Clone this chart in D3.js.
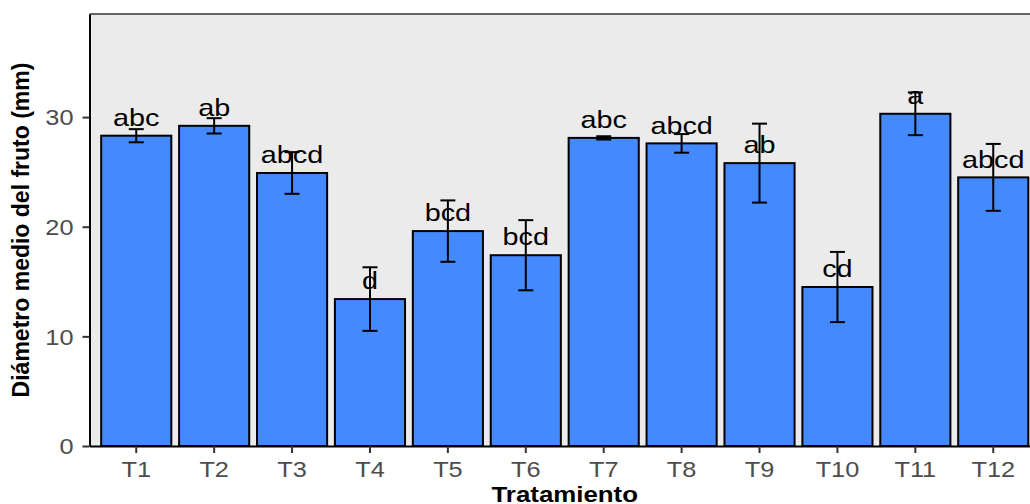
<!DOCTYPE html>
<html>
<head>
<meta charset="utf-8">
<script src="https://cdn.jsdelivr.net/npm/d3@7"></script>
<style>
  body { margin: 0; background: #fff; }
  svg { display: block; }
</style>
</head>
<body>
<svg width="1030" height="504"></svg>
<script>
// data
const treatments = ['T1', 'T2', 'T3', 'T4', 'T5', 'T6', 'T7', 'T8', 'T9', 'T10', 'T11', 'T12'];
const means = [28.3, 29.2, 24.9, 13.4, 19.6, 17.4, 28.1, 27.6, 25.8, 14.5, 30.3, 24.5];
const errors = [0.6, 0.7, 1.9, 2.9, 2.8, 3.2, 0.15, 0.85, 3.6, 3.2, 1.95, 3.05];
const letters = ['abc', 'ab', 'abcd', 'd', 'bcd', 'bcd', 'abc', 'abcd', 'ab', 'cd', 'a', 'abcd'];
const yTicks = [0, 10, 20, 30];

const rows = treatments.map((t, i) => ({ t: t, m: means[i], e: errors[i], l: letters[i] }));

const PANEL = { left: 89.5, right: 1040, top: 14, bottom: 446 };
const STRETCH = 1.15; // the reference text is drawn a bit wide
const FONT = 'Liberation Sans, Arial, Helvetica, sans-serif';

const x = d3.scaleBand()
    .domain(treatments)
    .range([PANEL.left, PANEL.right])
    .paddingInner(0.1)
    .paddingOuter(0.15);

const y = d3.scaleLinear()
    .domain([0, 39.4])
    .range([PANEL.bottom, PANEL.top]);

const svg = d3.select('svg');

// panel background
svg.append('rect')
    .attr('x', PANEL.left)
    .attr('y', PANEL.top)
    .attr('width', PANEL.right - PANEL.left)
    .attr('height', PANEL.bottom - PANEL.top)
    .attr('fill', '#ebebeb');

svg.append('line')
    .attr('x1', PANEL.left).attr('x2', PANEL.right)
    .attr('y1', PANEL.top).attr('y2', PANEL.top)
    .attr('stroke', '#333').attr('stroke-width', 1.5);

// bars
svg.selectAll('.bar')
    .data(rows)
    .enter()
    .append('rect')
    .classed('bar', true)
    .attr('x', d => x(d.t))
    .attr('width', x.bandwidth())
    .attr('y', d => y(d.m))
    .attr('height', d => y(0) - y(d.m))
    .attr('fill', '#4589ff')
    .attr('stroke', '#000')
    .attr('stroke-width', 2);

// error bars
const cap = 7.5;
const eb = svg.selectAll('.err')
    .data(rows)
    .enter()
    .append('g')
    .classed('err', true)
    .attr('stroke', '#000')
    .attr('stroke-width', 2);
eb.append('line')
    .attr('x1', d => x(d.t) + x.bandwidth() / 2)
    .attr('x2', d => x(d.t) + x.bandwidth() / 2)
    .attr('y1', d => y(d.m - d.e))
    .attr('y2', d => y(d.m + d.e));
eb.append('line')
    .attr('x1', d => x(d.t) + x.bandwidth() / 2 - cap)
    .attr('x2', d => x(d.t) + x.bandwidth() / 2 + cap)
    .attr('y1', d => y(d.m + d.e))
    .attr('y2', d => y(d.m + d.e));
eb.append('line')
    .attr('x1', d => x(d.t) + x.bandwidth() / 2 - cap)
    .attr('x2', d => x(d.t) + x.bandwidth() / 2 + cap)
    .attr('y1', d => y(d.m - d.e))
    .attr('y2', d => y(d.m - d.e));

// letters above bars
svg.selectAll('.label')
    .data(rows)
    .enter()
    .append('text')
    .classed('label', true)
    .attr('transform', d => `translate(${x(d.t) + x.bandwidth() / 2},${y(d.m + 0.9)}) scale(1.2,1)`)
    .attr('text-anchor', 'middle')
    .attr('font-family', FONT)
    .attr('font-size', 24)
    .attr('fill', '#000')
    .text(d => d.l);

// axes
const yAxis = svg.append('g')
    .attr('transform', `translate(${PANEL.left},0)`)
    .call(d3.axisLeft(y).tickValues(yTicks).tickSize(7).tickPadding(9).tickSizeOuter(0));
const xAxis = svg.append('g')
    .attr('transform', `translate(0,${PANEL.bottom})`)
    .call(d3.axisBottom(x).tickSize(7).tickPadding(8).tickSizeOuter(0));

[yAxis, xAxis].forEach(ax => {
    ax.select('.domain').attr('stroke', '#000').attr('stroke-width', 2);
    ax.selectAll('.tick line').attr('stroke', '#333').attr('stroke-width', 2);
    ax.selectAll('.tick text')
        .attr('font-family', FONT)
        .attr('font-size', 22)
        .attr('fill', '#4d4d4d');
});
// widen the tick text like the reference
yAxis.selectAll('.tick text')
    .attr('dy', '0.36em')
    .attr('transform', function () {
        const tx = +d3.select(this).attr('x');
        return `translate(${tx},0) scale(${STRETCH},1)`;
    })
    .attr('x', 0);
xAxis.selectAll('.tick text')
    .attr('transform', function () {
        const ty = +d3.select(this).attr('y');
        return `translate(0,${ty}) scale(${STRETCH},1)`;
    })
    .attr('y', 0)
    .attr('dy', '0.71em');

// axis titles
svg.append('text')
    .attr('transform', `translate(${(PANEL.left + PANEL.right) / 2},502) scale(${STRETCH},1)`)
    .attr('text-anchor', 'middle')
    .attr('font-family', FONT)
    .attr('font-weight', 'bold')
    .attr('font-size', 22.5)
    .text('Tratamiento');

svg.append('text')
    .attr('transform', `translate(29,${(PANEL.top + PANEL.bottom) / 2}) rotate(-90)`)
    .attr('text-anchor', 'middle')
    .attr('font-family', FONT)
    .attr('font-weight', 'bold')
    .attr('font-size', 23)
    .text('Diámetro medio del fruto (mm)');
</script>
</body>
</html>
